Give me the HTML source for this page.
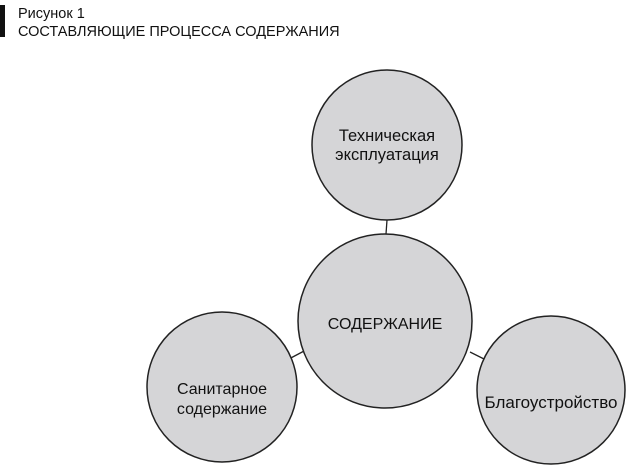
<!DOCTYPE html>
<html><head><meta charset="utf-8"><style>
html,body{margin:0;padding:0;background:#fff;width:626px;height:474px;overflow:hidden}
</style></head><body>
<svg width="626" height="474" xmlns="http://www.w3.org/2000/svg" font-family="Liberation Sans, DejaVu Sans, sans-serif">
<rect x="0" y="5" width="5" height="32" fill="#111"/>
<text x="18" y="18" font-size="14.5" fill="#111">Рисунок 1</text>
<text x="18" y="36" font-size="14.5" fill="#111">СОСТАВЛЯЮЩИЕ ПРОЦЕССА СОДЕРЖАНИЯ</text>
<g stroke="#222" stroke-width="1.3">
<line x1="387" y1="220" x2="386" y2="234"/>
<line x1="287" y1="360" x2="306" y2="350"/>
<line x1="470" y1="352" x2="490" y2="362"/>
</g>
<g fill="#d5d5d7" stroke="#222" stroke-width="1.5">
<circle cx="387" cy="145" r="75"/>
<circle cx="385" cy="321" r="87"/>
<circle cx="222" cy="387" r="75"/>
<circle cx="551" cy="390" r="74"/>
</g>
<g font-size="16.5" fill="#111" text-anchor="middle">
<text x="387" y="141">Техническая</text>
<text x="387" y="160">эксплуатация</text>
<text x="385" y="329" font-size="16">СОДЕРЖАНИЕ</text>
<text x="222" y="394" font-size="16">Санитарное</text>
<text x="222" y="414" font-size="16">содержание</text>
<text x="551" y="408" font-size="17">Благоустройство</text>
</g>
</svg>
</body></html>
